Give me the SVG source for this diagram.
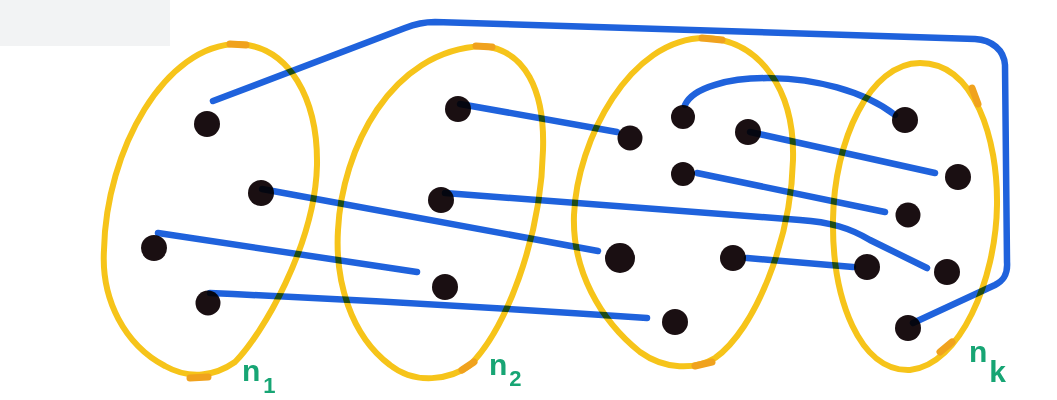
<svg xmlns="http://www.w3.org/2000/svg" width="1057" height="400" viewBox="0 0 1057 400">
  <style>
    .set { fill: none; stroke: #f6c41a; stroke-width: 6; stroke-linejoin: round; }
    .hl { fill: none; stroke: #f0a21e; stroke-width: 7; stroke-linecap: round; }
    .dot { fill: #1a0f12; }
    .conn { fill: none; stroke: #1f62dc; stroke-width: 6.5; stroke-linecap: round; stroke-linejoin: round; }
    .lbl { font-family: "Liberation Sans", Arial, sans-serif; font-weight: bold; fill: #17a574; font-size: 30px; }
    .sub { font-size: 22px; }
    .subk { font-size: 30px; }
  </style>
  <rect x="0" y="0" width="1057" height="400" fill="#ffffff"/>
  <rect x="0" y="0" width="170" height="46" fill="#f2f3f4"/>

  <g id="set1">
    <path class="set" d="M 238,44 C 290,46 318,100 317,165 C 315,245 262,335 235,362 C 215,376 190,380 165,366 C 125,345 101,300 104,250 C 106,150 165,44 238,44 Z"/>
    <path class="hl" d="M 230,44 L 246,45"/>
    <path class="hl" d="M 190,378 L 208,377"/>
    <circle class="dot" cx="207" cy="124" r="13"/>
    <circle class="dot" cx="261" cy="193" r="13"/>
    <circle class="dot" cx="154" cy="248" r="13"/>
    <circle class="dot" cx="208" cy="303" r="12.5"/>
    <text class="lbl" x="242" y="381">n<tspan class="sub" dx="3" dy="12">1</tspan></text>
  </g>

  <g id="set2">
    <path class="set" d="M 483,46 C 525,50 545,90 543,150 C 541,240 505,330 470,365 C 450,380 415,385 390,365 C 350,335 335,280 338,230 C 342,150 390,50 483,46 Z"/>
    <path class="hl" d="M 476,46 L 492,47"/>
    <path class="hl" d="M 462,370 L 474,362"/>
    <circle class="dot" cx="458" cy="109" r="13"/>
    <circle class="dot" cx="441" cy="200" r="13"/>
    <circle class="dot" cx="445" cy="287" r="13"/>
    <text class="lbl" x="489" y="375">n<tspan class="sub" dx="2" dy="11">2</tspan></text>
  </g>

  <g id="set3">
    <path class="set" d="M 705,38 C 760,40 795,90 793,160 C 791,240 755,330 715,358 C 695,370 665,370 640,352 C 600,320 572,270 574,215 C 577,140 630,38 705,38 Z"/>
    <path class="hl" d="M 702,38 L 722,40"/>
    <path class="hl" d="M 695,366 L 712,362"/>
    <circle class="dot" cx="630" cy="138" r="12.5"/>
    <circle class="dot" cx="683" cy="117" r="12"/>
    <circle class="dot" cx="748" cy="132" r="13"/>
    <circle class="dot" cx="683" cy="174" r="12"/>
    <circle class="dot" cx="620" cy="258" r="15"/>
    <circle class="dot" cx="733" cy="258" r="13"/>
    <circle class="dot" cx="675" cy="322" r="13"/>
  </g>

  <g id="set4">
    <path class="set" d="M 920,63 C 975,63 998,140 997,205 C 996,280 960,365 910,370 C 860,372 832,300 833,220 C 834,140 870,63 920,63 Z"/>
    <path class="hl" d="M 972,88 L 978,104"/>
    <path class="hl" d="M 940,352 L 952,342"/>
    <circle class="dot" cx="905" cy="120" r="13"/>
    <circle class="dot" cx="958" cy="177" r="13"/>
    <circle class="dot" cx="908" cy="215" r="12.5"/>
    <circle class="dot" cx="867" cy="267" r="13"/>
    <circle class="dot" cx="947" cy="272" r="13"/>
    <circle class="dot" cx="908" cy="328" r="13"/>
    <text class="lbl" x="969" y="362">n<tspan class="subk" dx="2" dy="20">k</tspan></text>
  </g>

  <g id="connectors" style="mix-blend-mode: multiply">
    <path class="conn" d="M 213,101 L 405,28 C 415,24 425,22 435,22 L 975,39 C 992,40 1004,50 1005,65 L 1007,262 C 1008,275 1003,281 995,285 L 913,323"/>
    <path class="conn" d="M 262,189 L 598,251"/>
    <path class="conn" d="M 158,233 L 417,272"/>
    <path class="conn" d="M 210,293 Q 430,303 647,318"/>
    <path class="conn" d="M 460,104 L 617,132"/>
    <path class="conn" d="M 445,193 L 800,220 C 830,222 850,228 870,240 L 927,268"/>
    <path class="conn" d="M 685,105 C 700,70 830,65 895,115"/>
    <path class="conn" d="M 750,132 L 935,173"/>
    <path class="conn" d="M 697,173 L 885,212"/>
    <path class="conn" d="M 747,258 L 853,267"/>
  </g>
</svg>
